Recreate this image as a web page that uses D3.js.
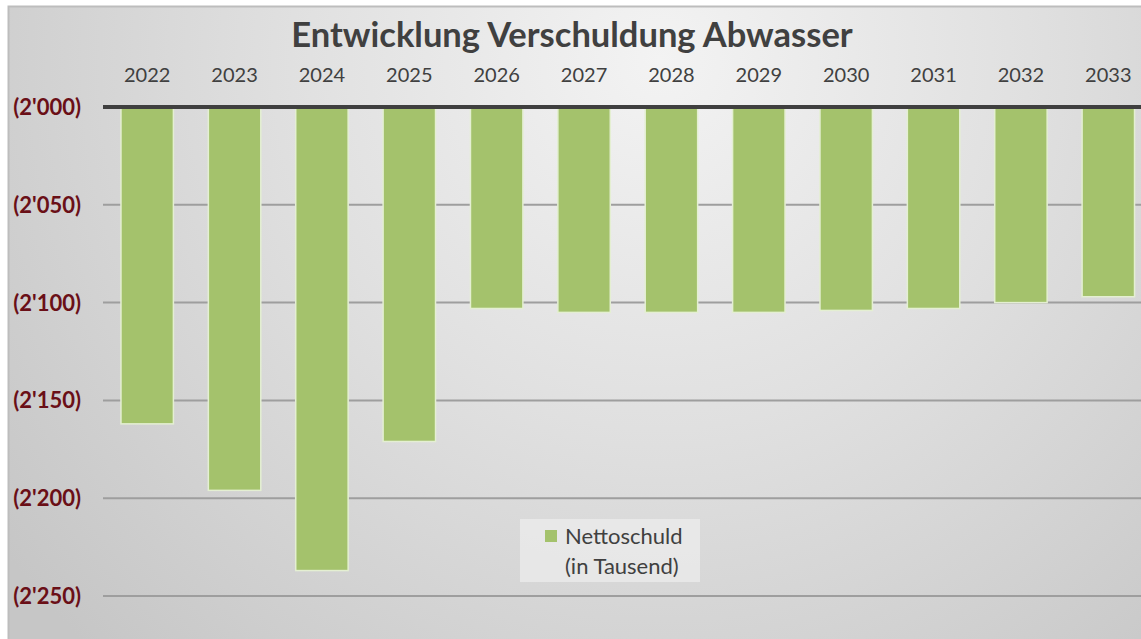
<!DOCTYPE html>
<html>
<head>
<meta charset="utf-8">
<script src="https://cdn.jsdelivr.net/npm/d3@7"></script>
<style>
  body { margin: 0; background: #fff; }
  svg { display: block; font-family: Lato, "Open Sans", sans-serif; }
</style>
</head>
<body>
<div id="chart"></div>
<script>
const years = ["2022", "2023", "2024", "2025", "2026", "2027", "2028", "2029", "2030", "2031", "2032", "2033"];
const nettoschuld = [2162, 2196, 2237, 2171, 2103, 2105, 2105, 2105, 2104, 2103, 2100, 2097];
const yTicks = [2000, 2050, 2100, 2150, 2200, 2250];
const chartTitle = "Entwicklung Verschuldung Abwasser";
const legendLines = ["Nettoschuld", "(in Tausend)"];

const W = 1141, H = 639;

const svg = d3.select("#chart").append("svg")
  .attr("width", W)
  .attr("height", H);

const defs = svg.append("defs");
const grad = defs.append("radialGradient")
  .attr("id", "bg")
  .attr("gradientUnits", "userSpaceOnUse")
  .attr("cx", 660).attr("cy", 60).attr("r", 820);
grad.append("stop").attr("offset", "0%").attr("stop-color", "#f3f3f3");
grad.append("stop").attr("offset", "45%").attr("stop-color", "#e0e0e0");
grad.append("stop").attr("offset", "100%").attr("stop-color", "#c6c6c6");

svg.append("rect")
  .attr("x", 8.5).attr("y", 6.5)
  .attr("width", W).attr("height", H)
  .attr("fill", "url(#bg)")
  .attr("stroke", "#bdbdbd")
  .attr("stroke-width", 2);

const x = d3.scaleBand()
  .domain(years)
  .range([103.5, 1152])
  .paddingInner(0.4)
  .paddingOuter(0.2);

const y = d3.scaleLinear()
  .domain([2000, 2250])
  .range([107, 596]);

const fmt = v => "(" + d3.format(",")(v).replace(",", "'") + ")";

// gridlines
svg.append("g")
  .selectAll("line")
  .data(yTicks.slice(1))
  .join("line")
  .attr("x1", 103).attr("x2", W)
  .attr("y1", d => y(d)).attr("y2", d => y(d))
  .attr("stroke", "#9e9e9e")
  .attr("stroke-width", 2);

// bars
svg.append("g")
  .selectAll("rect")
  .data(years.map((yr, i) => ({ yr, v: nettoschuld[i] })))
  .join("rect")
  .attr("x", d => x(d.yr))
  .attr("y", y(2000))
  .attr("width", x.bandwidth())
  .attr("height", d => y(d.v) - y(2000))
  .attr("fill", "#a4c26c")
  .attr("stroke", "#e4efd2")
  .attr("stroke-width", 1.5);

// top axis line
svg.append("line")
  .attr("x1", 103).attr("x2", W)
  .attr("y1", y(2000)).attr("y2", y(2000))
  .attr("stroke", "#3f3f3f")
  .attr("stroke-width", 4);

// year labels
svg.append("g")
  .selectAll("text")
  .data(years)
  .join("text")
  .attr("x", d => x(d) + x.bandwidth() / 2)
  .attr("y", 82)
  .attr("text-anchor", "middle")
  .attr("font-size", 20)
  .attr("fill", "#404040")
  .text(d => d);

// y labels
svg.append("g")
  .selectAll("text")
  .data(yTicks)
  .join("text")
  .attr("x", 81)
  .attr("y", d => y(d))
  .attr("dy", "0.36em")
  .attr("text-anchor", "end")
  .attr("font-size", 22)
  .attr("font-weight", "bold")
  .attr("fill", "#6a0f17")
  .text(fmt);

// title
svg.append("text")
  .attr("x", 572)
  .attr("y", 47)
  .attr("text-anchor", "middle")
  .attr("font-size", 34.5)
  .attr("font-weight", "bold")
  .attr("fill", "#404040")
  .text(chartTitle);

// legend
const lg = svg.append("g");
lg.append("rect")
  .attr("x", 520).attr("y", 519)
  .attr("width", 180).attr("height", 63)
  .attr("fill", "#ececec")
  .attr("fill-opacity", 0.75);
lg.append("rect")
  .attr("x", 545).attr("y", 530)
  .attr("width", 12).attr("height", 12)
  .attr("fill", "#a4c26c");
lg.selectAll("text.l")
  .data(legendLines)
  .join("text")
  .attr("class", "l")
  .attr("x", 565)
  .attr("y", (d, i) => 544 + i * 30)
  .attr("font-size", 22)
  .attr("fill", "#404040")
  .text(d => d);
</script>
</body>
</html>
